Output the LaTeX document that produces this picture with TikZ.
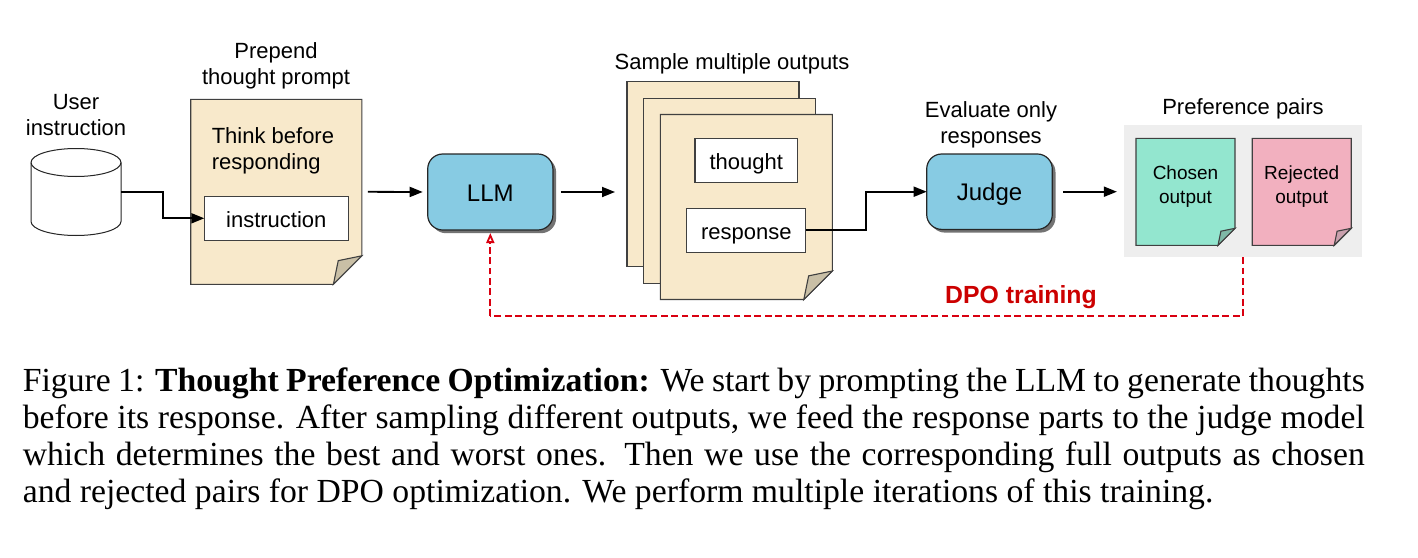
\documentclass[tikz,border=0pt]{standalone}
\usepackage{fontspec}
\setmainfont{Liberation Serif}
\setsansfont{Liberation Sans}
\usetikzlibrary{arrows.meta,positioning,shadows}
\definecolor{pagetan}{HTML}{F8E9CB}
\definecolor{foldtan}{HTML}{C9BFA6}
\definecolor{modelblue}{HTML}{87CBE3}
\definecolor{chosengreen}{HTML}{93E6CF}
\definecolor{chosenfold}{HTML}{7FB8A6}
\definecolor{rejectpink}{HTML}{F2B0BF}
\definecolor{rejectfold}{HTML}{C9A0AD}
\definecolor{pairgray}{HTML}{EEEEEE}
\definecolor{dpored}{HTML}{D90010}
\definecolor{dpotext}{HTML}{CC0000}
% page with a turned corner: name, centre, width, height, fold, fill, fold fill
\newcommand{\foldpage}[7]{
  \node[page box,minimum width=#3,minimum height=#4] (#1) at (#2) {};
  \draw[page line,fill=#6] (#1.north west) -- (#1.north east)
    -- ([yshift=#5]#1.south east) -- ([xshift=-#5]#1.south east)
    -- (#1.south west) -- cycle;
  \draw[page line,fill=#7] ([xshift=-#5]#1.south east)
    -- ([xshift=-.83*#5,yshift=.83*#5]#1.south east)
    -- ([yshift=#5]#1.south east) -- cycle;
}
\begin{document}
\begin{tikzpicture}[x=0.5pt,y=-0.5pt,>={Triangle[length=6.5pt,width=5pt]},
                    thick,
                    page box/.style={inner sep=0pt,outer sep=0pt},
                    page line/.style={draw=black!75,line width=0.55pt},
                    back page/.style={page box,page line,fill=pagetan,minimum width=86pt,minimum height=92.5pt},
                    text box/.style={page box,page line,fill=white,font=\sffamily\fontsize{11}{13}\selectfont,
                      minimum height=22pt,text height=8.7pt,text depth=0pt},
                    model node/.style={page box,draw=black!85,line width=0.6pt,fill=modelblue,rounded corners=7.5pt,
                      font=\sffamily\fontsize{12}{14}\selectfont,text height=9pt,text depth=0pt,
                      drop shadow={shadow xshift=1.6pt,shadow yshift=-1.6pt,fill=black!55,opacity=1}},
                    plain label/.style={inner sep=0pt,align=center,font=\sffamily\fontsize{11}{13}\selectfont},
                    small label/.style={inner sep=0pt,align=center,font=\sffamily\fontsize{9.5}{12}\selectfont},
                    flow/.style={->,line width=0.9pt,black},
                    dpo/.style={line width=0.9pt,dpored,dash pattern=on 3.4pt off 1.8pt}]
  \useasboundingbox (0,0) rectangle (1418,557);
  % input
  \node[page box,minimum width=45pt,minimum height=43.5pt] (db) at (76,192) {};
  \draw[draw=black!85,line width=0.5pt,fill=white] ([yshift=-7pt]db.north west)
    arc[start angle=180,end angle=0,x radius=22.5pt,y radius=7pt]
    -- ([yshift=7pt]db.south east)
    arc[start angle=0,end angle=-180,x radius=22.5pt,y radius=7pt] -- cycle;
  \draw[draw=black!85,line width=0.5pt] ([yshift=-7pt]db.north west)
    arc[start angle=180,end angle=360,x radius=22.5pt,y radius=7pt];
  \node[plain label] (dblabel) at (76,115) {User\\instruction};
  % prompt page
  \foldpage{doc}{276.3,191.8}{85.6pt}{92.5pt}{14.25pt}{pagetan}{foldtan}
  \node[plain label] (doclabel) at (276,66) {Prepend\\thought prompt};
  \node[plain label,align=left,anchor=west] (think) at (211,151) {Think before\\responding};
  \node[text box,minimum width=72pt] (instr) at (276.3,218.3) {instruction};
  % model
  \node[model node,minimum width=62.6pt,minimum height=38pt] (llm) at (490.3,192) {LLM};
  % sampled pages
  \node[back page] (pagea) at (713,174) {};
  \node[back page] (pageb) at (729.8,190.7) {};
  \foldpage{pagec}{746.3,207}{86pt}{92.5pt}{14.25pt}{pagetan}{foldtan}
  \node[plain label] (samplelabel) at (732,64) {Sample multiple outputs};
  \node[text box,minimum width=51.3pt] (thought) at (746.3,160.7) {thought};
  \node[text box,minimum width=59.6pt] (resp) at (746.3,230.3) {response};
  % judge
  \node[model node,minimum width=62.8pt,minimum height=37.7pt] (judge) at (989.5,191.7) {Judge};
  \node[plain label] (judgelabel) at (991,125) {Evaluate only\\responses};
  % preference pairs
  \node[page box,fill=pairgray,minimum width=118.9pt,minimum height=65.9pt] (pairs) at (1242.8,191.2) {};
  \node[plain label] (pairslabel) at (1243,109) {Preference pairs};
  \foldpage{chosen}{1185.5,191.8}{49.5pt}{53.5pt}{8.5pt}{chosengreen}{chosenfold}
  \foldpage{reject}{1301.7,191.8}{49.5pt}{53.5pt}{8.5pt}{rejectpink}{rejectfold}
  \node[small label] (chosenlabel) at (1185.5,187) {Chosen\\output};
  \node[small label] (rejectlabel) at (1301.7,187) {Rejected\\output};
  % connectors
  \coordinate (bendi) at (163,192);
  \coordinate (bendj) at (866,191.7);
  \coordinate (dpoa) at (1243,316);
  \coordinate (dpob) at (490.3,316);
  \draw[flow] (db.east) -- (bendi) |- (instr.west);
  \draw[flow,shorten <=3pt,shorten >=2.5pt] (doc.east) -- (llm.west);
  \draw[flow,shorten <=4pt,shorten >=6pt] (llm.east) -- (llm.east -| pagea.west);
  \draw[flow] (resp.east) -| (bendj) -- (judge.west);
  \draw[flow,shorten <=5.5pt,shorten >=3.5pt] (judge.east) -- (judge.east -| pairs.west);
  \draw[dpo] (pairs.south -| dpoa) -- (dpoa) -- (dpob);
  \draw[dpo,-{Triangle[open,length=5pt,width=4pt,fill=white]}] (dpob) -- ([yshift=-1.5pt]llm.south);
  \node[text=dpotext,inner sep=0pt,font=\sffamily\bfseries\fontsize{12.4}{14}\selectfont] (dpolabel) at (1021,297) {DPO training};
  % figure caption
  \node[anchor=north west,inner sep=0pt,text width=671pt,align=justify,font=\fontsize{16.85}{18.5}\selectfont] (figcap) at (22,367)
    {Figure 1: \textbf{Thought Preference Optimization:} We start by prompting the LLM to generate thoughts\linebreak
     before its response. After sampling different outputs, we feed the response parts to the judge model\linebreak
     which determines the best and worst ones.  Then we use the corresponding full outputs as chosen\linebreak
     and rejected pairs for DPO optimization. We perform multiple iterations of this training.};
\end{tikzpicture}
\end{document}
